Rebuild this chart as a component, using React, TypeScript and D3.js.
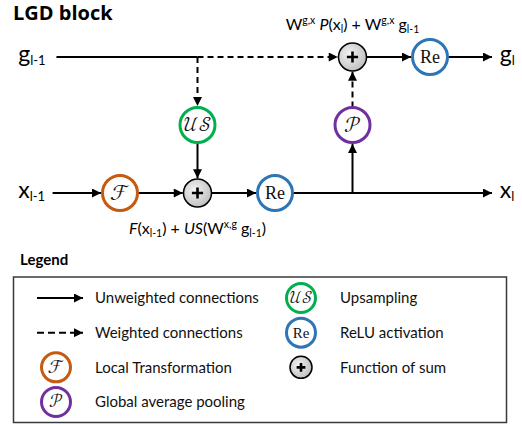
import React from "react";
import * as d3 from "d3";

// logical layout of the block: columns along the signal flow, rows g / mid / x
const rows = ["g", "mid", "x"];

const nodes = [
  { id: "gIn", kind: "point", col: -0.82, row: "g" },
  { id: "split", kind: "point", col: 1, row: "g" },
  { id: "sumG", kind: "sum", col: 3, row: "g" },
  { id: "ReG", kind: "op", symbol: "Re", color: "#2E75B6", col: 4, row: "g" },
  { id: "gOut", kind: "point", col: 4.8, row: "g" },
  { id: "US", kind: "op", symbol: "𝒰𝒮", color: "#00B050", col: 1, row: "mid" },
  { id: "P", kind: "op", symbol: "𝒫", color: "#7030A0", col: 3, row: "mid" },
  { id: "xIn", kind: "point", col: -0.87, row: "x" },
  { id: "F", kind: "op", symbol: "ℱ", color: "#C55A11", col: 0, row: "x" },
  { id: "sumX", kind: "sum", col: 1, row: "x" },
  { id: "ReX", kind: "op", symbol: "Re", color: "#2E75B6", col: 2, row: "x" },
  { id: "tap", kind: "point", col: 3, row: "x" },
  { id: "xOut", kind: "point", col: 4.8, row: "x" },
];

const edges = [
  { from: "gIn", to: "split", dashed: false, arrow: false },
  { from: "split", to: "sumG", dashed: true, arrow: true },
  { from: "split", to: "US", dashed: true, arrow: true },
  { from: "US", to: "sumX", dashed: false, arrow: true },
  { from: "xIn", to: "F", dashed: false, arrow: true },
  { from: "F", to: "sumX", dashed: false, arrow: true },
  { from: "sumX", to: "ReX", dashed: false, arrow: true },
  { from: "ReX", to: "xOut", dashed: false, arrow: true },
  { from: "tap", to: "P", dashed: false, arrow: true },
  { from: "P", to: "sumG", dashed: true, arrow: true },
  { from: "sumG", to: "ReG", dashed: false, arrow: true },
  { from: "ReG", to: "gOut", dashed: false, arrow: true },
];

const signalLabels = [
  { base: "g", sub: "l-1", col: -1.3, row: "g" },
  { base: "x", sub: "l-1", col: -1.3, row: "x" },
  { base: "g", sub: "l", col: 4.9, row: "g" },
  { base: "x", sub: "l", col: 4.9, row: "x" },
];

const legendLeft = [
  { kind: "solid", label: "Unweighted connections" },
  { kind: "dashed", label: "Weighted connections" },
  { kind: "op", symbol: "ℱ", color: "#C55A11", label: "Local Transformation" },
  { kind: "op", symbol: "𝒫", color: "#7030A0", label: "Global average pooling" },
];
const legendRight = [
  { kind: "op", symbol: "𝒰𝒮", color: "#00B050", label: "Upsampling" },
  { kind: "op", symbol: "Re", color: "#2E75B6", label: "ReLU activation" },
  { kind: "sum", label: "Function of sum" },
];

const FONT = "Lato, 'Open Sans', sans-serif";
const MATH = "'Latin Modern Math', 'DejaVu Math TeX Gyre', serif";

const x = d3.scaleLinear().domain([0, 4]).range([120, 430]);
const y = d3.scalePoint<string>().domain(rows).range([57, 193]);
const legendY = d3.scaleLinear().domain([0, 3]).range([298, 402]);

const radius = (kind: string) => (kind === "op" ? 17.5 : kind === "sum" ? 14 : 0);

function OpIcon({ cx, cy, r, symbol, color }: any) {
  const isRe = symbol === "Re";
  const s = r / 17.5;
  return (
    <g>
      <circle cx={cx} cy={cy} r={r} fill="#fff" stroke={color} strokeWidth={3} />
      <text
        x={cx}
        y={cy}
        dy={isRe ? "0.35em" : "0.3em"}
        textAnchor="middle"
        fontFamily={isRe ? "'Liberation Serif', serif" : MATH}
        fontSize={(isRe ? 18 : symbol.length > 2 ? 20 : 22) * s}
        fill="#111"
      >
        {symbol}
      </text>
    </g>
  );
}

function SumIcon({ cx, cy, r }: any) {
  const a = r * 0.4;
  return (
    <g>
      <circle cx={cx} cy={cy} r={r} fill="url(#sumFill)" stroke="#000" strokeWidth={1.5} />
      <path d={`M${cx - a},${cy}H${cx + a}M${cx},${cy - a}V${cy + a}`} stroke="#000" strokeWidth={2.6} />
    </g>
  );
}

export default function App() {
  const byId = new Map(nodes.map((n) => [n.id, n]));
  const pos = (n: any) => [x(n.col), y(n.row)!];

  return (
    <svg width={522} height={425} style={{ position: "absolute", left: 0, top: 0, background: "#fff" }}>
      <defs>
        <marker id="arrow" viewBox="0 0 10 10" refX={10} refY={5} markerWidth={11} markerHeight={9} markerUnits="userSpaceOnUse" orient="auto">
          <path d="M0,0 L10,5 L0,10 z" fill="#000" />
        </marker>
        <radialGradient id="sumFill" cx="40%" cy="40%" r="65%">
          <stop offset="0%" stopColor="#f4f4f4" />
          <stop offset="100%" stopColor="#bdbdbd" />
        </radialGradient>
      </defs>

      <text x={13} y={20} fontFamily="'Open Sans', Lato, sans-serif" fontWeight="bold" fontSize={20} fill="#000">
        LGD block
      </text>

      {edges.map((e, i) => {
        const a = byId.get(e.from)!;
        const b = byId.get(e.to)!;
        const [x1, y1] = pos(a);
        const [x2, y2] = pos(b);
        const len = Math.hypot(x2 - x1, y2 - y1);
        const ux = (x2 - x1) / len;
        const uy = (y2 - y1) / len;
        const ra = radius(a.kind);
        const rb = radius(b.kind) + (b.kind === "op" ? 1.5 : b.kind === "sum" ? 0.75 : 0);
        return (
          <line
            key={i}
            x1={x1 + ux * ra}
            y1={y1 + uy * ra}
            x2={x2 - ux * rb}
            y2={y2 - uy * rb}
            stroke="#000"
            strokeWidth={2}
            strokeDasharray={e.dashed ? "6 4" : undefined}
            markerEnd={e.arrow ? "url(#arrow)" : undefined}
          />
        );
      })}

      {nodes.map((n) => {
        const [cx, cy] = pos(n);
        if (n.kind === "op") return <OpIcon key={n.id} cx={cx} cy={cy} r={radius("op")} symbol={n.symbol} color={n.color} />;
        if (n.kind === "sum") return <SumIcon key={n.id} cx={cx} cy={cy} r={radius("sum")} />;
        return null;
      })}

      {signalLabels.map((l, i) => (
        <text key={i} x={x(l.col) + (l.col < 0 ? -1 : 0)} y={y(l.row)! + 5} fontFamily={FONT} fontSize={23} fill="#000">
          {l.base}
          <tspan fontSize={13} dy={3}>
            {l.sub}
          </tspan>
        </text>
      ))}

      {/* formulas */}
      <text x={x(3)} y={30} textAnchor="middle" fontFamily={FONT} fontSize={16} fill="#000">
        W<tspan fontSize={10.5} dy={-6}>g,x</tspan>
        <tspan dy={6}> </tspan>
        <tspan fontStyle="italic">P</tspan>(x<tspan fontSize={10.5} dy={3}>l</tspan>
        <tspan dy={-3}>) + W</tspan>
        <tspan fontSize={10.5} dy={-6}>g,x</tspan>
        <tspan dy={6}> g</tspan>
        <tspan fontSize={10.5} dy={3}>l-1</tspan>
      </text>
      <text x={x(1)} y={234} textAnchor="middle" fontFamily={FONT} fontSize={16} fill="#000">
        <tspan fontStyle="italic">F</tspan>(x<tspan fontSize={10.5} dy={3}>l-1</tspan>
        <tspan dy={-3}>) + </tspan>
        <tspan fontStyle="italic">US</tspan>(W<tspan fontSize={10.5} dy={-6}>x,g</tspan>
        <tspan dy={6}> g</tspan>
        <tspan fontSize={10.5} dy={3}>l-1</tspan>
        <tspan dy={-3}>)</tspan>
      </text>

      {/* legend */}
      <text x={20} y={265} fontFamily={FONT} fontWeight="bold" fontSize={15} fill="#000">
        Legend
      </text>
      <rect x={13.5} y={277} width={493} height={145.5} fill="none" stroke="#3a3a3a" strokeWidth={1.5} />

      {legendLeft.map((d, i) => {
        const cy = legendY(i);
        return (
          <g key={i}>
            {d.kind === "op" ? (
              <OpIcon cx={56} cy={cy} r={14.5} symbol={d.symbol} color={d.color} />
            ) : (
              <line
                x1={37}
                y1={cy}
                x2={83}
                y2={cy}
                stroke="#000"
                strokeWidth={2}
                strokeDasharray={d.kind === "dashed" ? "7 4" : undefined}
                markerEnd="url(#arrow)"
              />
            )}
            <text x={95} y={cy} dy="0.35em" fontFamily={FONT} fontSize={15} fill="#111">
              {d.label}
            </text>
          </g>
        );
      })}
      {legendRight.map((d, i) => {
        const cy = legendY(i);
        return (
          <g key={i}>
            {d.kind === "op" ? (
              <OpIcon cx={301} cy={cy} r={14.5} symbol={d.symbol} color={d.color} />
            ) : (
              <SumIcon cx={301} cy={cy} r={11} />
            )}
            <text x={340} y={cy} dy="0.35em" fontFamily={FONT} fontSize={15} fill="#111">
              {d.label}
            </text>
          </g>
        );
      })}
    </svg>
  );
}
